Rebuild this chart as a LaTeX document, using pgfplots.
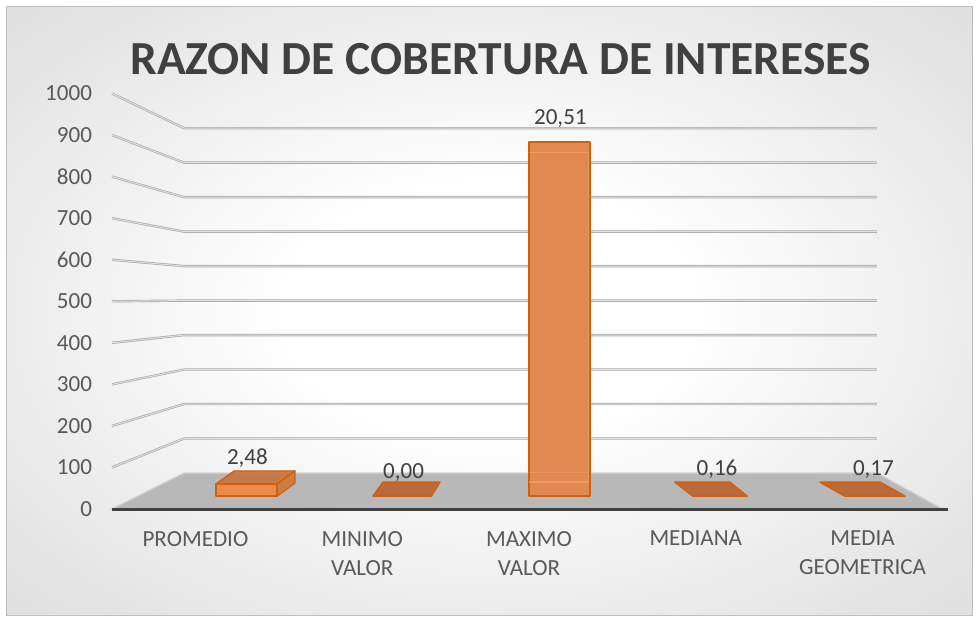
\documentclass[border=0pt]{standalone}
\usepackage{fontspec}
\setmainfont{Carlito}
\usepackage{pgfplots}
\pgfplotsset{compat=1.18}
\usepackage{pgfplotstable}
\definecolor{txt}{HTML}{404040}
\definecolor{lbl}{HTML}{595959}
\definecolor{gridc}{HTML}{A8A8A8}
\definecolor{floorc}{HTML}{B8B8B8}
\definecolor{barfront}{HTML}{EE8A48}
\definecolor{bartop}{HTML}{C9733A}
\definecolor{barside}{HTML}{D27636}
\definecolor{maxfront}{HTML}{E08A52}
\definecolor{baredge}{HTML}{CF600F}
\definecolor{flatc}{HTML}{B96B3B}
\definecolor{borderc}{HTML}{BFBFBF}
\pgfdeclareradialshading{bgshade}{\pgfpoint{0bp}{0bp}}{%
  color(0bp)=(white); color(10bp)=(white);
  color(30bp)=(white!90!black); color(50bp)=(white!81!black);
  color(71bp)=(white!73!black)}

% data labels: x (category front position), y (label height), text
\pgfplotstableread{
x      y      lab
0.312  122.7  2,48
1.248  89.0   0,00
2.188  941.0  20,51
3.127  96.3   0,16
4.065  96.3   0,17
}\labeltab

\begin{document}
\begin{tikzpicture}[x=0.75pt,y=0.75pt]
\path[use as bounding box] (0,0) rectangle (979,622);
\fill[white] (0,0) rectangle (979,622);
\path[shading=bgshade, draw=borderc, line width=0.75pt] (6,7) rectangle (972,615);
\node[font=\fontsize{35.6}{40}\selectfont\bfseries, text=txt] at (500.5,563)
  {RAZON DE COBERTURA DE INTERESES};
\begin{axis}[
  at={(84pt,84.75pt)}, anchor=south west,
  scale only axis, width=625.5pt, height=311.6pt,
  xmin=-0.5, xmax=4.5, ymin=0, ymax=1000,
  enlargelimits=false, clip=false,
  axis x line*=bottom, axis y line*=left,
  axis line style={draw=none}, major tick length=0pt,
  tick style={draw=none},
  ytick={0,100,...,1000},
  /pgf/number format/assume math mode=true,
  /pgf/number format/1000 sep={},
  yticklabel style={font=\fontsize{17.3}{20}\selectfont, text=lbl,
    anchor=east, xshift=-11.5pt},
  xtick={0,1,2,3,4},
  xticklabels={PROMEDIO,{MINIMO\\VALOR},{MAXIMO\\VALOR},MEDIANA,{MEDIA\\GEOMETRICA}},
  xticklabel style={font=\fontsize{17.3}{21.75}\selectfont, text=lbl,
    align=center, anchor=north, yshift=-13pt},
]
% back wall / side wall gridlines
\pgfplotsinvokeforeach{100,200,300,400,500,600,700,800,900,1000}{
  \addplot[draw=gridc, line width=0.5pt, double=white!88!black,
    double distance=0.75pt, line join=round]
    coordinates {(-0.5,#1) (-0.068,{86.6+0.83*#1}) (4.086,{86.6+0.83*#1})};
}
% floor
\addplot[fill=floorc, draw=white!82!black, line width=0.9pt]
  coordinates {(-0.5,0) (4.48,0) (4.086,86.6) (-0.068,86.6)} -- cycle;
\addplot[draw=txt, line width=2.2pt] coordinates {(-0.5,-1.5) (4.51,-1.5)};
% PROMEDIO box
\addplot[fill=barside, fill opacity=0.9, draw=baredge, line width=1pt, line join=round]
  coordinates {(0.489,31) (0.489,60.2) (0.597,91.5) (0.597,62.3)} -- cycle;
\addplot[fill=bartop, fill opacity=0.9, draw=baredge, line width=1pt, line join=round]
  coordinates {(0.1235,60.2) (0.489,60.2) (0.597,91.5) (0.2315,91.5)} -- cycle;
\addplot[fill=barfront, draw=baredge, line width=1pt, line join=round]
  coordinates {(0.1235,31) (0.489,31) (0.489,60.2) (0.1235,60.2)} -- cycle;
% MINIMO (flat)
\addplot[fill=flatc, draw=baredge, line width=1.2pt, line join=round]
  coordinates {(1.065,31) (1.414,31) (1.466,64.7) (1.125,64.7)} -- cycle;
% MAXIMO bar
\addplot[fill=maxfront, draw=baredge, line width=1.2pt, line join=round]
  coordinates {(2.0,31) (2.366,31) (2.366,883) (2.0,883)} -- cycle;
\addplot[draw=barfront!80!white, line width=0.8pt, opacity=0.7]
  coordinates {(2.0,857) (2.354,857) (2.354,65) (2.0,65)};
\addplot[draw=barfront!80!white, line width=0.6pt, opacity=0.5]
  coordinates {(2.0,89) (2.354,89)};
% MEDIANA (flat)
\addplot[fill=flatc, draw=baredge, line width=1.2pt, line join=round]
  coordinates {(2.983,31) (3.307,31) (3.204,64.7) (2.875,64.7)} -- cycle;
% MEDIA GEOMETRICA (flat)
\addplot[fill=flatc, draw=baredge, line width=1.2pt, line join=round]
  coordinates {(3.894,31) (4.254,31) (4.104,64.7) (3.745,64.7)} -- cycle;
% data labels
\addplot[draw=none, mark=none, nodes near coords, point meta=explicit symbolic,
  nodes near coords style={anchor=center, font=\fontsize{17.3}{20}\selectfont, text=txt}]
  table[x=x, y=y, meta=lab] {\labeltab};
\end{axis}
\end{tikzpicture}
\end{document}
